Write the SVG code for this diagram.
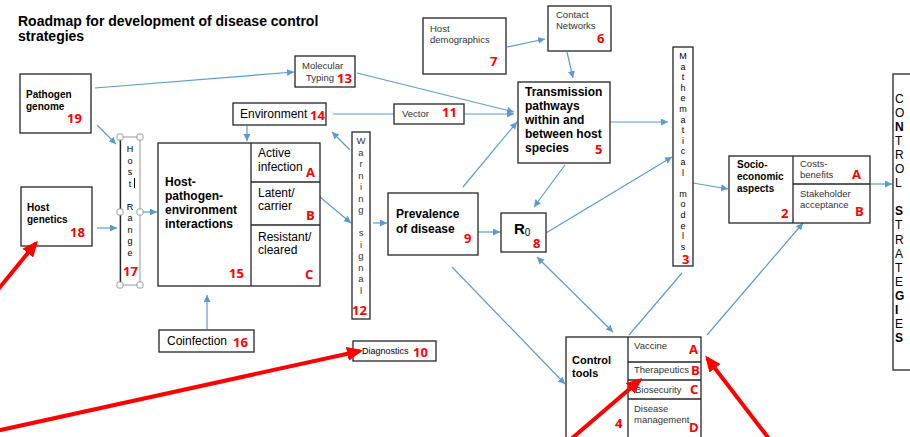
<svg xmlns="http://www.w3.org/2000/svg" width="910" height="437" viewBox="0 0 910 437">
<defs>
<marker id="ab" markerUnits="userSpaceOnUse" markerWidth="8" markerHeight="8" refX="7" refY="3.5" orient="auto"><path d="M0,0 L7,3.5 L0,7 z" fill="#5B9BD5"/></marker>
<marker id="as" markerUnits="userSpaceOnUse" markerWidth="8" markerHeight="8" refX="0" refY="3.5" orient="auto"><path d="M7,0 L0,3.5 L7,7 z" fill="#5B9BD5"/></marker>
<marker id="ar" markerUnits="userSpaceOnUse" markerWidth="18" markerHeight="16" refX="13" refY="7" orient="auto"><path d="M0,0 L16,7 L0,14 z" fill="#FF0000"/></marker>
</defs>
<style>
.bx{fill:#fff;stroke:#262626;stroke-width:1.3}
.ln{stroke:#262626;stroke-width:1.3;fill:none}
.t{font-family:"Liberation Sans",Arial,sans-serif;fill:#000}
.s{font-family:"Liberation Sans",Arial,sans-serif;fill:#333;font-size:9.5px}
.b{font-weight:bold}
.n{font-family:"Open Sans","Liberation Sans",sans-serif;font-weight:700;fill:#FF0000;font-size:13px}
.c{stroke:#5B9BD5;stroke-width:1.2;fill:none;marker-end:url(#ab)}
.c0{stroke:#5B9BD5;stroke-width:1.2;fill:none}
.r{stroke:#FF0000;stroke-width:4;fill:none;marker-end:url(#ar)}
.h{fill:#fff;stroke:#999;stroke-width:1}
</style>
<rect width="910" height="437" fill="#fff"/>
<text class="t b" x="18" y="26" font-size="14">Roadmap for development of disease control</text>
<text class="t b" x="18" y="41" font-size="14">strategies</text>

<g id="connectors">
<line class="c" x1="95" y1="88" x2="294" y2="72"/>
<line class="c" x1="97" y1="125" x2="116" y2="144"/>
<line class="c" x1="97" y1="228" x2="117" y2="228"/>
<line class="c" x1="142" y1="212" x2="157" y2="212"/>
<line class="c" x1="207" y1="329" x2="207" y2="295"/>
<line class="c" x1="247" y1="126" x2="247" y2="141"/>
<line class="c" x1="357" y1="73" x2="514" y2="112"/>
<line class="c0" x1="333" y1="114" x2="394" y2="114"/>
<line class="c" x1="464" y1="114" x2="514" y2="114"/>
<line class="c" x1="350" y1="150" x2="332" y2="132"/>
<line class="c" x1="320" y1="197" x2="351" y2="223"/>
<line class="c" x1="373" y1="223" x2="387" y2="223"/>
<line class="c" x1="463" y1="187" x2="517" y2="122"/>
<line class="c" x1="478" y1="232" x2="500" y2="232"/>
<line class="c" x1="565" y1="165" x2="534" y2="207"/>
<line class="c" x1="610" y1="122" x2="668" y2="122"/>
<line class="c" x1="546" y1="233" x2="672" y2="157"/>
<line class="c" x1="567" y1="52" x2="573" y2="78"/>
<line class="c" x1="507" y1="47" x2="545" y2="39"/>
<line class="c" x1="537" y1="257" x2="613" y2="332" marker-start="url(#as)"/>
<line class="c" x1="452" y1="267" x2="565" y2="384"/>
<line class="c0" x1="629" y1="335" x2="682" y2="273"/>
<line class="c" x1="707" y1="335" x2="803" y2="223"/>
<line class="c" x1="693" y1="183" x2="728" y2="189"/>
<line class="c" x1="870" y1="184" x2="892" y2="184"/>
</g>

<g id="n19"><rect class="bx" x="20" y="74" width="71" height="59"/><text class="t b" font-size="10" x="26" y="98">Pathogen</text><text class="t b" font-size="10" x="26" y="110">genome</text><text class="n" x="67" y="123">19</text></g>
<g id="n18"><rect class="bx" x="21" y="187" width="71" height="59"/><text class="t b" font-size="10" x="27" y="211">Host</text><text class="t b" font-size="10" x="27" y="223">genetics</text><text class="n" x="70" y="237">18</text></g>
<g id="n17"><rect x="120" y="137" width="20" height="148" fill="#fff" stroke="#999" stroke-width="1"/><line class="ln" x1="120.5" y1="137" x2="120.5" y2="285"/>
<text class="t" font-size="9" text-anchor="middle"><tspan x="130" y="152">H</tspan><tspan x="130" y="163.5">o</tspan><tspan x="130" y="175">s</tspan><tspan x="130" y="186.5">t</tspan><tspan x="130" y="209.5">R</tspan><tspan x="130" y="221">a</tspan><tspan x="130" y="232.5">n</tspan><tspan x="130" y="244">g</tspan><tspan x="130" y="255.5">e</tspan></text>
<line x1="134.5" y1="178" x2="134.5" y2="188" stroke="#000" stroke-width="1"/>
<text class="n" x="123" y="276">17</text>
<rect class="h" x="117" y="134" width="6" height="6" rx="1.5"/><rect class="h" x="137" y="134" width="6" height="6" rx="1.5"/><rect class="h" x="117" y="209" width="6" height="6" rx="1.5"/><rect class="h" x="137" y="209" width="6" height="6" rx="1.5"/><rect class="h" x="117" y="282" width="6" height="6" rx="1.5"/><rect class="h" x="137" y="282" width="6" height="6" rx="1.5"/></g>
<g id="n15"><rect class="bx" x="158" y="143" width="162" height="143"/><line class="ln" x1="251" y1="143" x2="251" y2="286"/><line class="ln" x1="251" y1="182" x2="320" y2="182"/><line class="ln" x1="251" y1="225" x2="320" y2="225"/>
<text class="t b" font-size="12" x="165" y="186">Host-</text><text class="t b" font-size="12" x="165" y="200">pathogen-</text><text class="t b" font-size="12" x="165" y="214">environment</text><text class="t b" font-size="12" x="165" y="228">interactions</text><text class="n" x="229" y="278">15</text>
<text class="t" font-size="12" x="258" y="157">Active</text><text class="t" font-size="12" x="258" y="171">infection</text><text class="n" x="306" y="177">A</text>
<text class="t" font-size="12" x="258" y="197">Latent/</text><text class="t" font-size="12" x="258" y="210">carrier</text><text class="n" x="306" y="220">B</text>
<text class="t" font-size="12" x="258" y="241">Resistant/</text><text class="t" font-size="12" x="258" y="254">cleared</text><text class="n" x="305" y="279">C</text></g>
<g id="n16"><rect class="bx" x="159" y="330" width="95" height="22"/><text class="t" font-size="12" x="167" y="345">Coinfection</text><text class="n" x="233" y="347">16</text></g>
<g id="n14"><rect class="bx" x="233" y="103" width="93" height="22"/><text class="t" font-size="12" x="240" y="118">Environment</text><text class="n" x="310" y="120">14</text></g>
<g id="n13"><rect class="bx" x="295" y="56" width="60" height="31"/><text class="s" x="302" y="69">Molecular</text><text class="s" x="306" y="81">Typing</text><text class="n" x="337" y="83">13</text></g>
<g id="n12"><rect class="bx" x="352" y="132" width="18" height="187"/>
<text class="s" font-size="9" text-anchor="middle"><tspan x="361" y="144">W</tspan><tspan x="361" y="155.5">a</tspan><tspan x="361" y="167">r</tspan><tspan x="361" y="178.5">n</tspan><tspan x="361" y="190">i</tspan><tspan x="361" y="201.5">n</tspan><tspan x="361" y="213">g</tspan><tspan x="361" y="236">s</tspan><tspan x="361" y="247.5">i</tspan><tspan x="361" y="259">g</tspan><tspan x="361" y="270.5">n</tspan><tspan x="361" y="282">a</tspan><tspan x="361" y="293.5">l</tspan></text>
<text class="n" x="352" y="315">12</text></g>
<g id="n11"><rect class="bx" x="394" y="104" width="70" height="20"/><text class="s" x="402" y="117">Vector</text><text class="n" x="442" y="117">11</text></g>
<g id="n7"><rect class="bx" x="423" y="18" width="83" height="56"/><text class="s" x="430" y="32">Host</text><text class="s" x="430" y="43">demographics</text><text class="n" x="490" y="66">7</text></g>
<g id="n6"><rect class="bx" x="548" y="6" width="63" height="45"/><text class="s" x="556" y="18">Contact</text><text class="s" x="556" y="29">Networks</text><text class="n" x="597" y="43">6</text></g>
<g id="n5"><rect class="bx" x="518" y="82" width="92" height="81"/><text class="t b" font-size="12" x="525" y="96">Transmission</text><text class="t b" font-size="12" x="525" y="110">pathways</text><text class="t b" font-size="12" x="525" y="124">within and</text><text class="t b" font-size="12" x="525" y="138">between host</text><text class="t b" font-size="12" x="525" y="152">species</text><text class="n" x="595" y="154">5</text></g>
<g id="n9"><rect class="bx" x="388" y="193" width="90" height="62"/><text class="t b" font-size="12" x="396" y="218">Prevalence</text><text class="t b" font-size="12" x="396" y="233">of disease</text><text class="n" x="464" y="243">9</text></g>
<g id="n8"><rect class="bx" x="501" y="213" width="45" height="39"/><text class="t b" font-size="15" x="514" y="234">R<tspan font-size="10" font-weight="normal" dy="2">0</tspan></text><text class="n" x="533" y="248">8</text></g>
<g id="n10"><rect class="bx" x="353" y="341" width="83" height="20"/><text class="t" font-size="9" x="362" y="354">Diagnostics</text><text class="n" x="413" y="357">10</text></g>
<g id="n3"><rect class="bx" x="673" y="47" width="20" height="219"/>
<text class="t" font-size="9" text-anchor="middle"><tspan x="683" y="59">M</tspan><tspan x="683" y="69.6">a</tspan><tspan x="683" y="80.2">t</tspan><tspan x="683" y="90.8">h</tspan><tspan x="683" y="101.4">e</tspan><tspan x="683" y="112">m</tspan><tspan x="683" y="122.6">a</tspan><tspan x="683" y="133.2">t</tspan><tspan x="683" y="143.8">i</tspan><tspan x="683" y="154.4">c</tspan><tspan x="683" y="165">a</tspan><tspan x="683" y="175.6">l</tspan><tspan x="683" y="196.8">m</tspan><tspan x="683" y="207.4">o</tspan><tspan x="683" y="218">d</tspan><tspan x="683" y="228.6">e</tspan><tspan x="683" y="239.2">l</tspan><tspan x="683" y="249.5">s</tspan></text>
<text class="n" x="682" y="264">3</text></g>
<g id="n2"><rect class="bx" x="729" y="156" width="141" height="67"/><line class="ln" x1="793" y1="156" x2="793" y2="223"/><line class="ln" x1="793" y1="184" x2="870" y2="184"/>
<text class="t b" font-size="10" x="737" y="168">Socio-</text><text class="t b" font-size="10" x="737" y="180">economic</text><text class="t b" font-size="10" x="737" y="192">aspects</text><text class="n" x="781" y="218">2</text>
<text class="s" font-size="10" x="800" y="167">Costs-</text><text class="s" font-size="10" x="800" y="178">benefits</text><text class="n" x="852" y="179">A</text>
<text class="s" font-size="10" x="800" y="197">Stakeholder</text><text class="s" font-size="10" x="800" y="208">acceptance</text><text class="n" x="855" y="216">B</text></g>
<g id="n1"><rect class="bx" x="893" y="74" width="30" height="296"/>
<text class="t" font-size="12"><tspan x="895" y="102.5">C</tspan><tspan x="895" y="116.6">O</tspan><tspan x="895" y="130.7" font-weight="bold">N</tspan><tspan x="895" y="144.8">T</tspan><tspan x="895" y="158.9">R</tspan><tspan x="895" y="173">O</tspan><tspan x="895" y="187.1">L</tspan><tspan x="895" y="215.3" font-weight="bold">S</tspan><tspan x="895" y="229.4">T</tspan><tspan x="895" y="243.5">R</tspan><tspan x="895" y="257.6">A</tspan><tspan x="895" y="271.7">T</tspan><tspan x="895" y="285.8">E</tspan><tspan x="895" y="299.9" font-weight="bold">G</tspan><tspan x="895" y="314" font-weight="bold">I</tspan><tspan x="895" y="328.1">E</tspan><tspan x="895" y="342.2" font-weight="bold">S</tspan></text></g>
<g id="n4"><rect class="bx" x="566" y="337" width="135" height="105"/><line class="ln" x1="628" y1="337" x2="628" y2="442"/><line class="ln" x1="628" y1="362" x2="701" y2="362"/><line class="ln" x1="628" y1="380" x2="701" y2="380"/><line class="ln" x1="628" y1="399" x2="701" y2="399"/>
<text class="t b" font-size="11" x="572" y="364">Control</text><text class="t b" font-size="11" x="572" y="377">tools</text><text class="n" x="615" y="428">4</text>
<text class="s" x="634" y="349">Vaccine</text><text class="n" x="689" y="354">A</text>
<text class="s" x="634" y="373">Therapeutics</text><text class="n" x="691" y="375">B</text>
<text class="s" x="635" y="393">Biosecurity</text><text class="n" x="690" y="394">C</text>
<text class="s" x="634" y="412">Disease</text><text class="s" x="634" y="423">management</text><text class="n" x="689" y="432">D</text></g>

<g id="red-arrows">
<line class="r" x1="-4" y1="292" x2="36" y2="243"/>
<line class="r" x1="-4" y1="431" x2="360" y2="351"/>
<line class="r" x1="570" y1="440" x2="640" y2="380"/>
<line class="r" x1="770" y1="440" x2="707" y2="358"/>
</g>
</svg>
